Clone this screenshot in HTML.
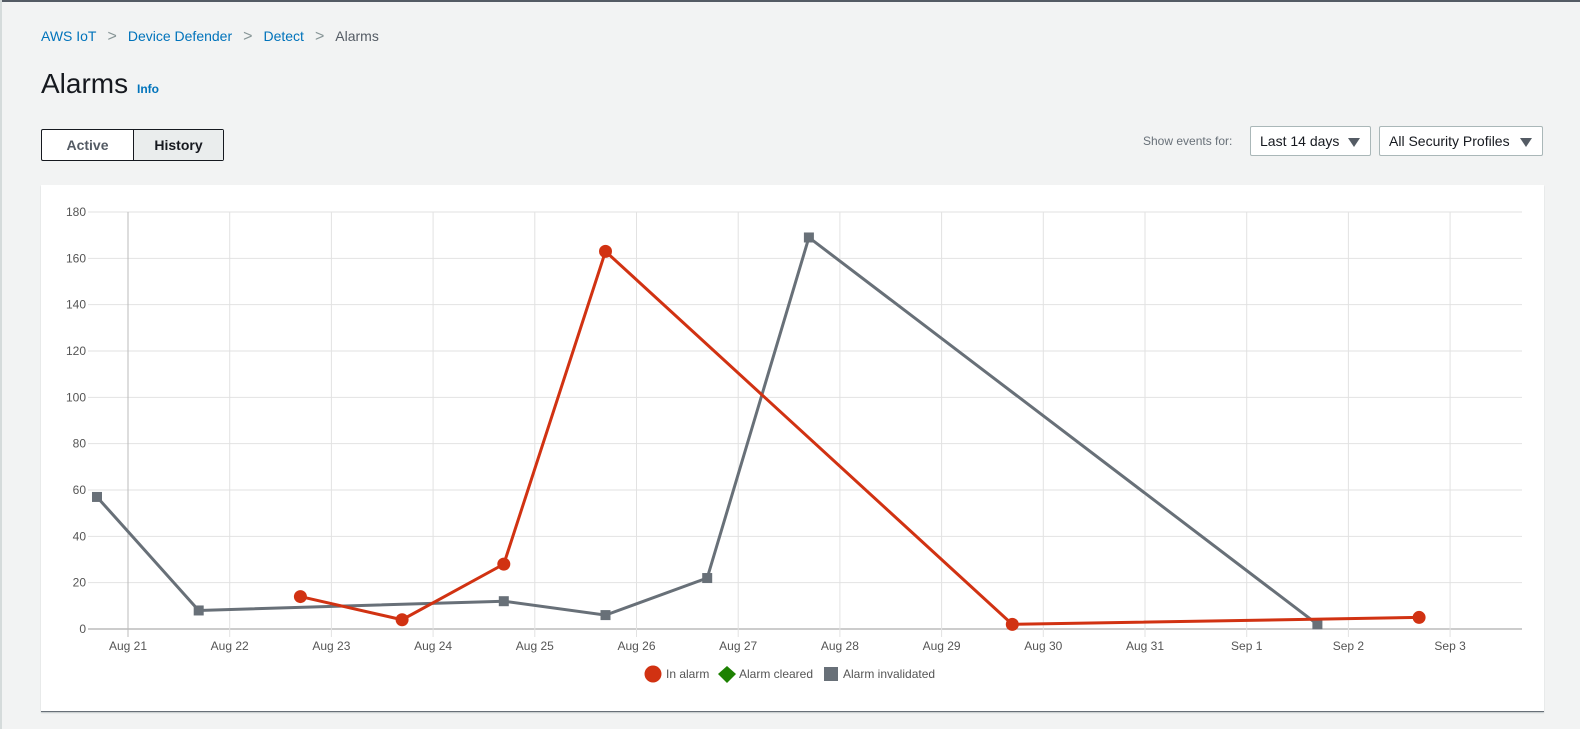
<!DOCTYPE html>
<html><head><meta charset="utf-8"><style>
body{margin:0;width:1580px;height:729px;background:#f2f3f3;font-family:"Liberation Sans",Arial,sans-serif;position:relative;overflow:hidden}
.top{position:absolute;left:0;top:0;width:1580px;height:2px;background:#545b64}
.lb{position:absolute;left:0;top:0;width:2px;height:729px;background:#d5dbdb}
.bc{position:absolute;top:28px;left:41px;font-size:14px;color:#0073bb}
.bc span.s{color:#879596;margin:0 11px;font-size:16px}
.bc .g{color:#545b64}
h1{position:absolute;left:41px;top:68px;margin:0;font-size:28px;font-weight:400;color:#16191f}
.info{position:absolute;left:137px;top:82px;font-size:12px;font-weight:700;color:#0073bb}
.tabs{position:absolute;left:41px;top:129px;height:30px;width:181px;border:1px solid #16191f;border-radius:2px;background:#fff;display:flex;font-size:14px;font-weight:700}
.tabs div{display:flex;align-items:center;justify-content:center}
.t1{width:91px;color:#545b64}.t2{flex:1;background:#eaeded;border-left:1px solid #16191f;color:#16191f}
.sl{position:absolute;left:1143px;top:134px;font-size:12px;color:#687078}
.dd{position:absolute;top:126px;height:30px;border:1px solid #aab7b8;border-radius:2px;background:#fff;font-size:14px;color:#16191f;box-sizing:border-box;padding:6px 9px}
.dd i{position:absolute;right:10px;top:11px;width:0;height:0;border-left:6px solid transparent;border-right:6px solid transparent;border-top:9px solid #545b64}
.card{position:absolute;left:41px;top:185px;width:1503px;height:526px;background:#fff;border-bottom:1px solid #687078;box-shadow:0 1px 1px rgba(0,28,36,.2)}
svg{position:absolute;left:0;top:0}
</style></head><body>
<div class="top"></div><div class="lb"></div>
<div class="bc">AWS IoT<span class="s">&gt;</span>Device Defender<span class="s">&gt;</span>Detect<span class="s">&gt;</span><span class="g">Alarms</span></div>
<h1>Alarms</h1><div class="info">Info</div>
<div class="tabs"><div class="t1">Active</div><div class="t2">History</div></div>
<div class="sl">Show events for:</div>
<div class="dd" style="left:1250px;width:121px">Last 14 days<i></i></div>
<div class="dd" style="left:1379px;width:164px">All Security Profiles<i></i></div>
<div class="card"></div>
<svg width="1580" height="729" font-family="Liberation Sans, Arial, sans-serif" font-size="12" fill="#555">
<g id="grid"></g>
</svg>
<script>
const s=document.querySelector('svg');let h='';
const Y=v=>629-v*2.3167, X=k=>97+101.7*k;
for(let v=0;v<=180;v+=20){const y=Y(v);h+=`<line x1="88" x2="1522" y1="${y}" y2="${y}" stroke="${v==0?'#999':'#e2e2e2'}"/>`;h+=`<text x="86" y="${y+4}" text-anchor="end">${v}</text>`}
const L=['Aug 21','Aug 22','Aug 23','Aug 24','Aug 25','Aug 26','Aug 27','Aug 28','Aug 29','Aug 30','Aug 31','Sep 1','Sep 2','Sep 3'];
L.forEach((t,i)=>{const x=128+101.7*i;h+=`<line x1="${x}" x2="${x}" y1="212" y2="637" stroke="${i==0?'#bbb':'#e2e2e2'}"/><text x="${x}" y="650" text-anchor="middle">${t}</text>`});
const G=[[0,57],[1,8],[4,12],[5,6],[6,22],[7,169],[12,2]],R=[[2,14],[3,4],[4,28],[5,163],[9,2],[13,5]];
h+=`<polyline fill="none" stroke="#687078" stroke-width="3" points="${G.map(p=>X(p[0])+','+Y(p[1])).join(' ')}"/>`;
G.forEach(p=>h+=`<rect x="${X(p[0])-5}" y="${Y(p[1])-5}" width="10" height="10" fill="#687078"/>`);
h+=`<polyline fill="none" stroke="#d13212" stroke-width="3" points="${R.map(p=>X(p[0])+','+Y(p[1])).join(' ')}"/>`;
R.forEach(p=>h+=`<circle cx="${X(p[0])}" cy="${Y(p[1])}" r="6.5" fill="#d13212"/>`);
h+=`<circle cx="653" cy="674" r="8.5" fill="#d13212"/><text x="666" y="678">In alarm</text>`;
h+=`<polygon points="727,666 736,674 727,683 718,674" fill="#1d8102"/><text x="739" y="678">Alarm cleared</text>`;
h+=`<rect x="824" y="667" width="14" height="14" fill="#687078"/><text x="843" y="678">Alarm invalidated</text>`;
s.innerHTML=h;
</script>
</body></html>
